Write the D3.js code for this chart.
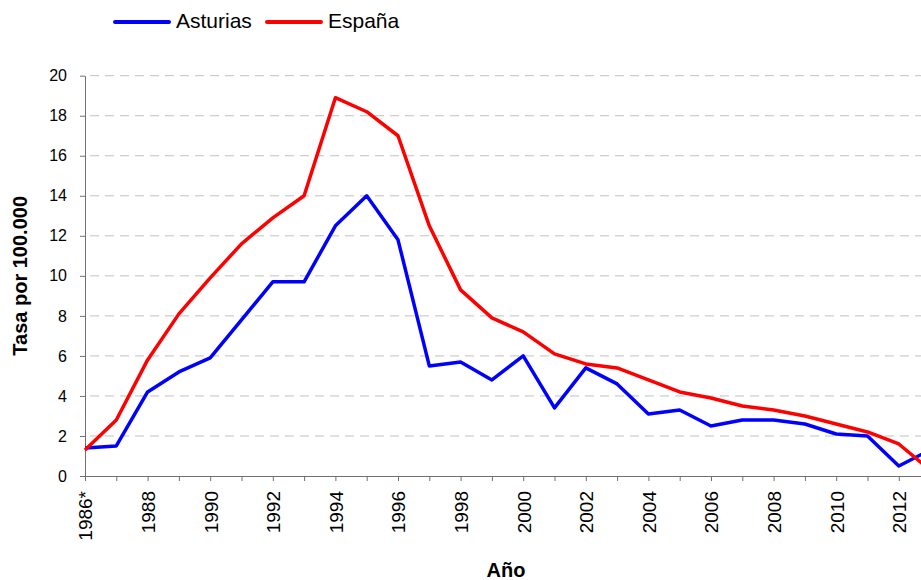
<!DOCTYPE html>
<html>
<head>
<meta charset="utf-8">
<script src="https://cdn.jsdelivr.net/npm/d3@7/dist/d3.min.js"></script>
<style>
  html, body { margin: 0; padding: 0; background: #fff; }
  svg { display: block; font-family: "Liberation Sans", Arial, sans-serif; }
</style>
</head>
<body>
<svg id="chart" width="921" height="580"></svg>
<script>
// Años (categorías del eje X); el primero lleva asterisco
const years = ["1986*", "1987", "1988", "1989", "1990", "1991", "1992", "1993", "1994",
  "1995", "1996", "1997", "1998", "1999", "2000", "2001", "2002", "2003", "2004",
  "2005", "2006", "2007", "2008", "2009", "2010", "2011", "2012", "2013"];

// Tasa por 100.000 habitantes
const asturias = [1.4, 1.5, 4.2, 5.2, 5.9, 7.8, 9.7, 9.7, 12.5, 14.0, 11.8, 5.5, 5.7,
  4.8, 6.0, 3.4, 5.4, 4.6, 3.1, 3.3, 2.5, 2.8, 2.8, 2.6, 2.1, 2.0, 0.5, 1.3];
const espana = [1.3, 2.8, 5.8, 8.1, 9.9, 11.6, 12.9, 14.0, 18.9, 18.2, 17.0, 12.5, 9.3,
  7.9, 7.2, 6.1, 5.6, 5.4, 4.8, 4.2, 3.9, 3.5, 3.3, 3.0, 2.6, 2.2, 1.6, 0.3];

const yTicks = [0, 2, 4, 6, 8, 10, 12, 14, 16, 18, 20];

const seriesList = [
  { name: "Asturias", values: asturias, color: "#0000ff" },
  { name: "España", values: espana, color: "#ff0000" }
];

const svg = d3.select("#chart");
const plotLeft = 85, plotTop = 75.7, plotBottom = 476;
const step = 31.3;

const x = d3.scalePoint()
  .domain(years)
  .range([plotLeft, plotLeft + step * (years.length - 1)]);

const y = d3.scaleLinear()
  .domain([0, 20])
  .range([plotBottom, plotTop]);

// Líneas de cuadrícula discontinuas
svg.append("g")
  .selectAll("line")
  .data(yTicks.filter(d => d > 0))
  .join("line")
  .attr("x1", plotLeft + 1)
  .attr("x2", 921)
  .attr("y1", d => y(d))
  .attr("y2", d => y(d))
  .attr("stroke", "#c0c0c0")
  .attr("stroke-width", 1)
  .attr("stroke-dasharray", "9,6")
  .attr("stroke-dashoffset", -4);

// Eje Y
const yAxis = svg.append("g")
  .attr("transform", `translate(${plotLeft},0)`)
  .call(d3.axisLeft(y).tickValues(yTicks).tickSize(5).tickSizeOuter(0).tickFormat(d3.format("d")));
yAxis.select(".domain").attr("stroke", "#707070");
yAxis.selectAll(".tick line").attr("stroke", "#707070");
yAxis.selectAll(".tick text")
  .attr("x", -18)
  .attr("font-size", 16)
  .attr("font-family", "Liberation Sans, Arial, sans-serif")
  .attr("fill", "#000");

// Eje X
const xAxis = svg.append("g")
  .attr("transform", `translate(0,${plotBottom})`)
  .call(d3.axisBottom(x).tickSize(5).tickSizeOuter(0)
    .tickFormat((d, i) => (i % 2 === 0 ? d : "")));
xAxis.select(".domain").attr("stroke", "#707070");
xAxis.selectAll(".tick line").attr("stroke", "#707070");
xAxis.selectAll(".tick text")
  .attr("transform", "rotate(-90)")
  .attr("x", -15)
  .attr("y", 0)
  .attr("dy", "0.36em")
  .attr("text-anchor", "end")
  .attr("font-size", 19)
  .attr("font-family", "Liberation Sans, Arial, sans-serif")
  .attr("fill", "#000");

// Series
const line = d3.line()
  .x((d, i) => x(years[i]))
  .y(d => y(d));

svg.append("g")
  .selectAll("path")
  .data(seriesList)
  .join("path")
  .attr("d", s => line(s.values))
  .attr("fill", "none")
  .attr("stroke", s => s.color)
  .attr("stroke-width", 3.5)
  .attr("stroke-linejoin", "round");

// Títulos de ejes
svg.append("text")
  .attr("transform", `translate(27,${(plotTop + plotBottom) / 2}) rotate(-90)`)
  .attr("text-anchor", "middle")
  .attr("font-size", 20)
  .attr("font-weight", "bold")
  .text("Tasa por 100.000");

svg.append("text")
  .attr("x", 506)
  .attr("y", 577)
  .attr("text-anchor", "middle")
  .attr("font-size", 20)
  .attr("font-weight", "bold")
  .text("Año");

// Leyenda
const legendPos = [{ x1: 115, tx: 176 }, { x1: 267, tx: 328 }];
const legend = svg.append("g")
  .selectAll("g")
  .data(seriesList)
  .join("g");
legend.append("line")
  .attr("x1", (d, i) => legendPos[i].x1)
  .attr("x2", (d, i) => legendPos[i].x1 + 54)
  .attr("y1", 22)
  .attr("y2", 22)
  .attr("stroke", d => d.color)
  .attr("stroke-width", 4)
  .attr("stroke-linecap", "round");
legend.append("text")
  .attr("x", (d, i) => legendPos[i].tx)
  .attr("y", 28)
  .attr("font-size", 21)
  .attr("fill", "#000")
  .text(d => d.name);
</script>
</body>
</html>
